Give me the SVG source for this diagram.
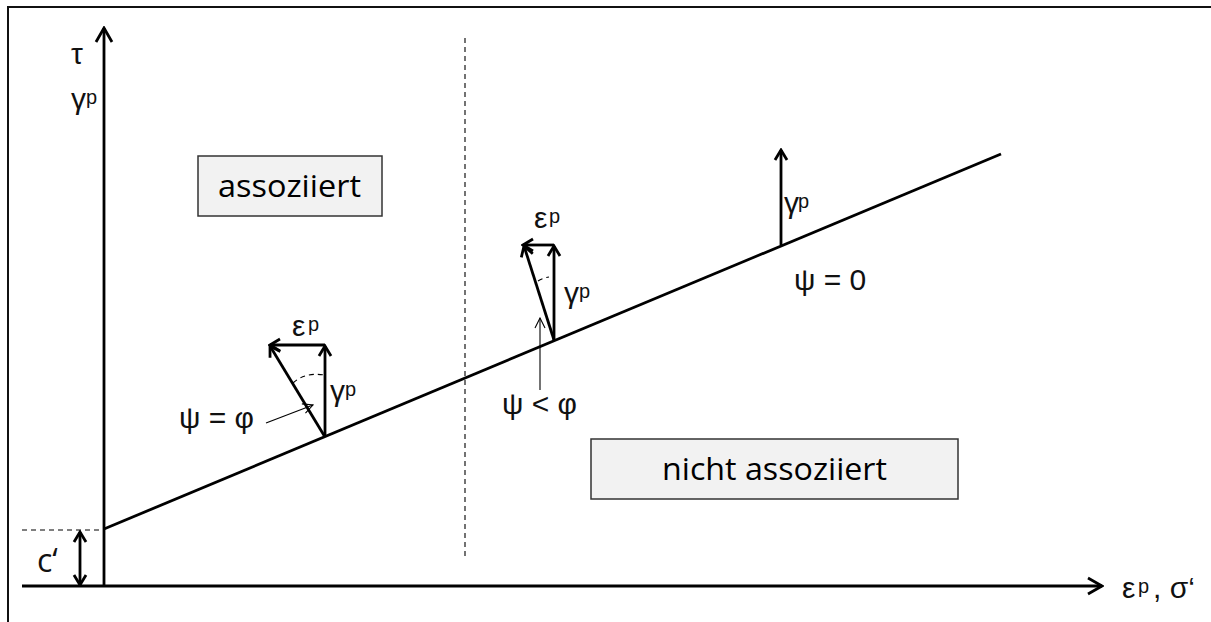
<svg xmlns="http://www.w3.org/2000/svg" width="1211" height="622" viewBox="0 0 1211 622">
<defs>
<style>
.ax{stroke:#000;stroke-width:2.8;fill:none}
.vec{stroke:#000;stroke-width:2.8;fill:none}
.thin{stroke:#000;stroke-width:1.1;fill:none}
.dash{stroke:#000;stroke-width:1.1;fill:none;stroke-dasharray:5,4}
.box{fill:#f2f2f2;stroke:#333;stroke-width:1.5}
.g{font-family:"Liberation Sans",Arial,sans-serif;font-size:30px;fill:#111}
.sup{font-size:20px}
.lbl{font-family:"Open Sans","Noto Sans",sans-serif;font-size:31px;fill:#000}
</style>
<marker id="big" markerUnits="userSpaceOnUse" viewBox="0 0 18 20" refX="16" refY="10" markerWidth="18" markerHeight="20" orient="auto">
<path d="M2,2 L16,10 L2,18" fill="none" stroke="#000" stroke-width="2.8"/>
</marker>
<marker id="sm" markerUnits="userSpaceOnUse" viewBox="0 0 14 16" refX="12" refY="8" markerWidth="14" markerHeight="16" orient="auto">
<path d="M2,2 L12,8 L2,14" fill="none" stroke="#000" stroke-width="2.8"/>
</marker>
<marker id="tn" markerUnits="userSpaceOnUse" viewBox="0 0 12 12" refX="11" refY="6" markerWidth="12" markerHeight="12" orient="auto">
<path d="M1,1 L11,6 L1,11" fill="none" stroke="#000" stroke-width="1.1"/>
</marker>
</defs>
<rect width="1211" height="622" fill="#fff"/>
<g id="frame">
<path d="M8,622 V7 H1211" fill="none" stroke="#111" stroke-width="2"/>
</g>
<g id="connectors">
<line class="ax" x1="104" y1="586" x2="104" y2="28" marker-end="url(#big)"/>
<line class="ax" x1="22" y1="586" x2="1102" y2="586" marker-end="url(#big)"/>
<line class="ax" x1="104" y1="529" x2="1001" y2="154"/>
<line class="dash" x1="22" y1="530" x2="104" y2="530"/>
<line class="dash" x1="465" y1="38" x2="465" y2="557"/>
<line class="vec" x1="80" y1="558" x2="80" y2="532" marker-end="url(#sm)"/>
<line class="vec" x1="80" y1="558" x2="80" y2="585" marker-end="url(#sm)"/>
<line class="vec" x1="325" y1="437" x2="325" y2="346" marker-end="url(#sm)"/>
<line class="vec" x1="325" y1="345" x2="270" y2="345" marker-end="url(#sm)"/>
<line class="vec" x1="325" y1="437" x2="270" y2="346" marker-end="url(#sm)"/>
<path class="dash" d="M293,383 Q305,372 324,375"/>
<line class="thin" x1="266" y1="423" x2="313" y2="405" marker-end="url(#tn)"/>
<line class="vec" x1="554" y1="340" x2="554" y2="246" marker-end="url(#sm)"/>
<line class="vec" x1="554" y1="245" x2="523" y2="245" marker-end="url(#sm)"/>
<line class="vec" x1="554" y1="340" x2="524" y2="246" marker-end="url(#sm)"/>
<path class="dash" d="M538,281 Q543,278 549,277"/>
<line class="thin" x1="540" y1="390" x2="540" y2="318" marker-end="url(#tn)"/>
<line class="vec" x1="781" y1="245" x2="781" y2="150" marker-end="url(#sm)"/>
</g>
<g id="node-assoziiert">
<rect class="box" x="198" y="156" width="184" height="60"/>
<text class="lbl" x="218" y="197" textLength="143" lengthAdjust="spacingAndGlyphs">assoziiert</text>
</g>
<g id="node-nicht-assoziiert">
<rect class="box" x="591" y="439" width="367" height="60"/>
<text class="lbl" x="662" y="480" textLength="225" lengthAdjust="spacingAndGlyphs">nicht assoziiert</text>
</g>
<g id="labels">
<text class="g" x="71" y="64">τ</text>
<text class="g" x="71" y="109">γ<tspan class="sup" x="86" y="104">p</tspan></text>
<text class="g" x="37" y="572" style="font-family:'Open Sans',sans-serif;font-size:32px">c‘</text>
<text class="g" x="292" y="336">ε<tspan class="sup" x="308" y="331">p</tspan></text>
<text class="g" x="330" y="401">γ<tspan class="sup" x="345" y="396">p</tspan></text>
<text class="g" x="179" y="428">ψ = φ</text>
<text class="g" x="534" y="228">ε<tspan class="sup" x="549" y="223">p</tspan></text>
<text class="g" x="564" y="303">γ<tspan class="sup" x="579" y="298">p</tspan></text>
<text class="g" x="502" y="414">ψ &lt; φ</text>
<text class="g" x="784" y="213">γ<tspan class="sup" x="798" y="208">p</tspan></text>
<text class="g" x="794" y="290">ψ = 0</text>
<text class="g" x="1122" y="598">ε<tspan class="sup" x="1138" y="593">p</tspan><tspan x="1153" y="598">, σ‘</tspan></text>
</g>
</svg>
